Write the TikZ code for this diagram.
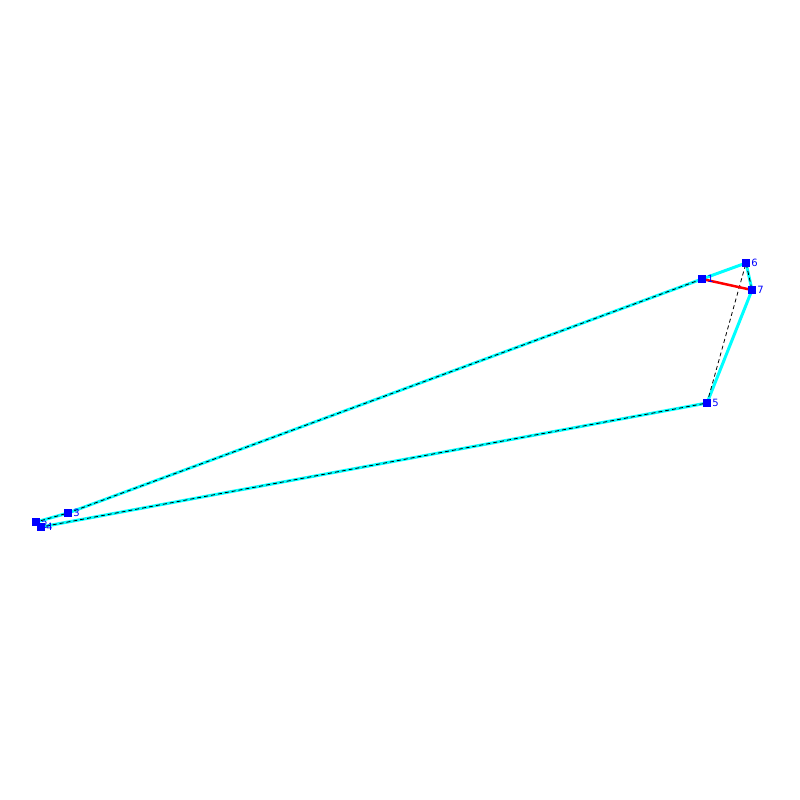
\documentclass[tikz,border=0pt]{standalone}
\usepackage{fontspec}
\setmainfont{DejaVu Sans}
\definecolor{cyanline}{RGB}{0,255,255}
\definecolor{bluept}{RGB}{0,0,255}
\definecolor{redline}{RGB}{255,0,0}
\begin{document}
\begin{tikzpicture}[x=1pt,y=-1pt,
  cyanedge/.style={draw=cyanline,line width=3pt},
  tour/.style={draw=black,line width=0.8pt,dash pattern=on 4pt off 3pt},
  rededge/.style={draw=redline,line width=2.5pt},
  pt/.style={fill=bluept,minimum size=8pt,inner sep=0pt,draw=none,rectangle},
  lbl/.style={text=bluept,font=\fontsize{10}{10}\selectfont,inner sep=0pt,anchor=west}]
\useasboundingbox (0,0) rectangle (800,800);
\fill[white] (0,0) rectangle (800,800);
\coordinate (p1) at (702,279);
\coordinate (p2) at (36,522);
\coordinate (p3) at (68,513);
\coordinate (p4) at (41,527);
\coordinate (p5) at (707,403);
\coordinate (p6) at (746,263);
\coordinate (p7) at (752,290);
\path[cyanedge] (p1) -- (p6) -- (p7) -- (p5) -- (p4) -- (p2) -- (p3) -- (p1);
\path[tour] (p1) -- (p3) -- (p2) -- (p4) -- (p5) -- (p6) -- (p7);
\path[rededge] (p1) -- (p7);
\foreach \i in {1,...,7} {\node[pt] (n\i) at (p\i) {};}
\node[lbl] (l1) at ([xshift=1pt]n1.east) {1};
\node[lbl] (l2) at ([xshift=1pt,yshift=-3pt]n2.east) {2};
\node[lbl] (l3) at ([xshift=1pt]n3.east) {3};
\node[lbl] (l4) at ([xshift=1pt]n4.east) {4};
\node[lbl] (l5) at ([xshift=1pt]n5.east) {5};
\node[lbl] (l6) at ([xshift=1pt]n6.east) {6};
\node[lbl] (l7) at ([xshift=1pt]n7.east) {7};
\end{tikzpicture}
\end{document}
